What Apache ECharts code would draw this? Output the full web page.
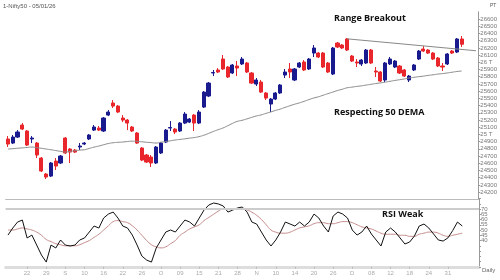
<!DOCTYPE html>
<html><head><meta charset="utf-8">
<script src="https://cdn.jsdelivr.net/npm/echarts@6/dist/echarts.min.js"></script>
<style>html,body{margin:0;padding:0;background:#fff}#c{width:500px;height:280px}</style>
</head><body><div id="c"></div>
<script>
// OHLC as [open, close, low, high]
const candles = [
[24936,24866,24825,24977],[24880,24963,24866,24991],[24963,25033,24950,25060],[25130,25074,25060,25157],[25047,24852,24839,25060],
[24936,24950,24880,24977],[24880,24714,24672,24894],[24672,24492,24478,24686],[24450,24409,24381,24464],[24422,24603,24409,24617],
[24630,24561,24506,24672],[24603,24700,24589,24714],[24950,24742,24728,24963],[24797,24755,24603,24811],[24783,24755,24742,24797],
[24825,24839,24783,24880],[24866,24880,24852,24894],[24936,24991,24922,25005],[25060,25102,25047,25130],[25088,25060,25047,25116],
[25047,25227,25033,25241],[25268,25310,25254,25338],[25435,25393,25366,25476],[25393,25310,25296,25407],[25227,25199,25171,25268],
[25199,25157,25060,25213],[25102,25047,25033,25116],[25019,24880,24866,25033],[24811,24644,24630,24825],[24714,24617,24603,24728],
[24686,24603,24547,24714],[24603,24825,24589,24839],[24742,24880,24728,24894],[24894,25060,24880,25074],[25088,25095,25047,25185],
[25074,25033,25005,25088],[25047,25157,25033,25171],[25157,25282,25143,25310],[25171,25213,25157,25227],[25268,25157,25047,25282],
[25157,25310,25143,25338],[25379,25587,25366,25601],[25532,25712,25518,25726],[25851,25858,25809,25893],[25893,25865,25851,25920],
[26045,25907,25893,26101],[25934,25796,25782,25948],[25851,25962,25837,25976],[25948,25920,25809,26017],[25976,26045,25962,26073],
[25990,25865,25851,26004],[25851,25712,25698,25865],[25698,25754,25671,25782],[25726,25587,25574,25754],[25574,25504,25476,25587],
[25421,25490,25310,25504],[25490,25574,25476,25587],[25574,25685,25560,25698],[25823,25865,25782,25907],[25907,25865,25782,25990],
[25754,25907,25740,25920],[25934,25990,25920,26004],[26004,25893,25879,26031],[25907,26045,25893,26059],[26128,26198,26073,26239],
[26128,26073,26059,26142],[26128,25934,25920,26142],[25990,25865,25851,26004],[25837,26198,25823,26212],[26267,26212,26198,26281],
[26239,26198,26184,26253],[26323,26170,26156,26336],[26087,26017,26004,26101],[26004,25990,25934,26045],[25976,26031,25948,26045],
[25990,26170,25976,26184],[26170,25990,25976,26184],[25879,25865,25796,25934],[25865,25740,25726,25879],[25754,25990,25726,26004],
[25976,26045,25962,26073],[25934,26017,25920,26031],[25948,25851,25837,25962],[25893,25809,25796,25907],[25754,25809,25726,25823],
[25893,25962,25879,25976],[26045,26156,26031,26170],[26184,26156,26142,26225],[26170,26128,26115,26184],[26128,26045,26031,26142],
[26059,25948,25934,26073],[25948,25934,25879,25990],[25976,26115,25962,26128],[26156,26128,26115,26170],[26142,26323,26128,26336],
[26323,26250,26212,26364]
];
const dema50 = [24797,24802,24808,24813,24819,24825,24816,24807,24797,24787,24776,24765,24755,24764,24773,24782,24787,24805,24823,24838,
24856,24873,24884,24890,24894,24901,24906,24904,24898,24891,24886,24880,24891,24901,24911,24922,24930,24938,24948,24956,
24969,24988,25013,25040,25065,25088,25119,25152,25180,25195,25214,25235,25255,25270,25291,25310,25332,25350,25374,25396,
25418,25436,25458,25482,25504,25521,25543,25565,25586,25608,25626,25646,25655,25665,25673,25684,25694,25705,25714,25725,
25736,25748,25758,25769,25782,25791,25800,25808,25818,25826,25836,25843,25852,25862,25872,25879];
const rsi = [45.2,51.9,57.6,59.5,42.4,45.2,35.7,26.2,19.5,35.7,32.9,40.5,35.7,34.8,35.7,40.5,42.4,48.1,53.8,51.9,
61.4,65.2,67.1,61.4,53.8,51.9,45.2,35.7,25.2,21.4,19.5,32.9,40.5,48.1,50,48.1,53.8,59.5,57.6,53.8,
61.4,69,73.8,75.7,74.8,72.9,67.1,69,71,71.9,67.1,57.6,55.7,48.1,40.5,34.8,40.5,48.1,57.6,55.7,
53.8,57.6,53.8,57.6,65.2,61.4,53.8,48.1,63.3,67.1,65.2,61.4,50,45.2,48.1,53.8,46.2,40.5,34.8,48.1,
51.9,48.1,42.4,36.7,38.6,44.3,53.8,55.7,51.9,46.2,40.5,39.5,42.5,49.5,57.6,53.8];
const rsiSignal = [50,50,51,52,51,50,48,45,41,39,37,36,35,35,35,36,38,40,43,46,
50,54,58,59,58,57,54,50,45,40,36,34,33,34,37,40,45,48,51,53,
55,59,62,65,68,70,70,70,70,70,69,67,64,60,55,50,48,47,47,48,
50,52,53,54,56,57,57,56,56,57,58,58,57,55,53,52,51,49,47,46,
46,46,45,45,44,44,46,47,48,48,47,45,44,45,46,47];
const labelIndex = [4,8,12,16,20,24,28,32,36,40,44,48,52,56,60,64,68,72,76,80,84,88,92];
const labelText = ['22','29','S','10','16','22','26','O','09','15','21','28','N','10','14','20','26','D','08','12','18','24','31'];
const rangeLine = [[71,26325],[98,26160]];
const lastPrice = 26250;
const totalSlots = 99;

const cats = [];
for (let i = 0; i < totalSlots; i++) cats.push('c' + i);
const labelMap = {};
labelIndex.forEach((k, j) => labelMap[k] = labelText[j]);
const showLab = (idx) => labelMap[idx] !== undefined;

const L = 5.6, W = 473.4;
const chart = echarts.init(document.getElementById('c'), null, {renderer: 'canvas'});
chart.setOption({
  animation: false,
  backgroundColor: '#fff',
  textStyle: {fontFamily: 'Liberation Sans'},
  grid: [
    {left: L, width: W, top: 11.8, height: 187.5},
    {left: L, width: W, top: 198.5, height: 68.3}
  ],
  xAxis: [
    {type: 'category', gridIndex: 0, data: cats, boundaryGap: true,
     axisLine: {show: true, lineStyle: {color: '#bbb', width: 1}}, axisTick: {show: false}, axisLabel: {show: false}, splitLine: {show: false}},
    {type: 'category', gridIndex: 1, data: cats, boundaryGap: true,
     axisLine: {show: true, lineStyle: {color: '#ddd', width: 3}},
     axisTick: {show: true, interval: showLab, alignWithLabel: true, length: 2, lineStyle: {color: '#bbb'}},
     axisLabel: {show: true, interval: showLab, formatter: (v, idx) => labelMap[idx] || '', fontSize: 6, color: '#aaa', margin: 4},
     splitLine: {show: false}}
  ],
  yAxis: [
    {type: 'value', gridIndex: 0, position: 'right', min: 24100, max: 26700, interval: 100,
     axisLine: {show: true, lineStyle: {color: '#999'}}, axisTick: {show: true, length: 2, lineStyle: {color: '#999'}},
     axisLabel: {fontSize: 6, color: '#777', margin: 2, showMinLabel: false, showMaxLabel: false,
       formatter: v => (v % 1000 === 0 ? (v / 1000) + ' T' : String(v))},
     splitLine: {show: false}},
    {type: 'value', gridIndex: 1, position: 'right', min: 15, max: 80, interval: 5,
     axisLine: {show: true, lineStyle: {color: '#999'}}, axisTick: {show: true, length: 2, lineStyle: {color: '#999'}},
     axisLabel: {fontSize: 6, color: '#777', margin: 2, formatter: v => (v >= 40 && v <= 70 ? String(v) : '')},
     splitLine: {show: false}}
  ],
  graphic: [
    {type: 'text', left: 3, top: 3, style: {text: '1-Nifty50 - 05/01/26', fontSize: 6, fill: '#555', fontFamily: 'Liberation Sans'}},
    {type: 'text', left: 490, top: 3, style: {text: 'PT', fontSize: 5, fill: '#555'}},
    {type: 'text', left: 334, top: 14, style: {text: 'Range Breakout', fontSize: 9, fontWeight: 'bold', fill: '#111', fontFamily: 'Open Sans'}},
    {type: 'text', left: 334, top: 108, style: {text: 'Respecting 50 DEMA', fontSize: 9, fontWeight: 'bold', fill: '#111', fontFamily: 'Open Sans'}},
    {type: 'text', left: 382, top: 210, style: {text: 'RSI Weak', fontSize: 9, fontWeight: 'bold', fill: '#111', fontFamily: 'Open Sans'}},
    {type: 'text', left: 482, top: 267, style: {text: 'Daily', fontSize: 6, fill: '#666'}}
  ],
  series: [
    {type: 'candlestick', xAxisIndex: 0, yAxisIndex: 0, data: candles, barWidth: 3.6,
     itemStyle: {color: '#1a1a8f', color0: '#e8262b', borderColor: '#1a1a8f', borderColor0: '#e8262b', borderWidth: 1},
     markLine: {silent: true, symbol: 'none', animation: false,
       data: [
         [{coord: rangeLine[0]}, {coord: rangeLine[1]}],
         {yAxis: lastPrice, lineStyle: {opacity: 0},
          label: {show: true, position: 'end', distance: 2, formatter: String(lastPrice), fontSize: 6, color: '#fff', backgroundColor: '#222', padding: [1, 2]}}
       ],
       lineStyle: {color: '#888', width: 1, type: 'solid'}, label: {show: false}}},
    {type: 'line', xAxisIndex: 0, yAxisIndex: 0, data: dema50, showSymbol: false, smooth: true,
     lineStyle: {color: '#8a8a8a', width: 1}},
    {type: 'line', xAxisIndex: 1, yAxisIndex: 1, data: rsiSignal, showSymbol: false, smooth: true,
     lineStyle: {color: '#c48a8a', width: 1}},
    {type: 'line', xAxisIndex: 1, yAxisIndex: 1, data: rsi, showSymbol: false,
     lineStyle: {color: '#111', width: 1},
     markLine: {silent: true, symbol: 'none', label: {show: false}, lineStyle: {color: '#ccc', width: 2, type: 'solid'}, data: [{yAxis: 70}]}}
  ]
});
</script></body></html>
